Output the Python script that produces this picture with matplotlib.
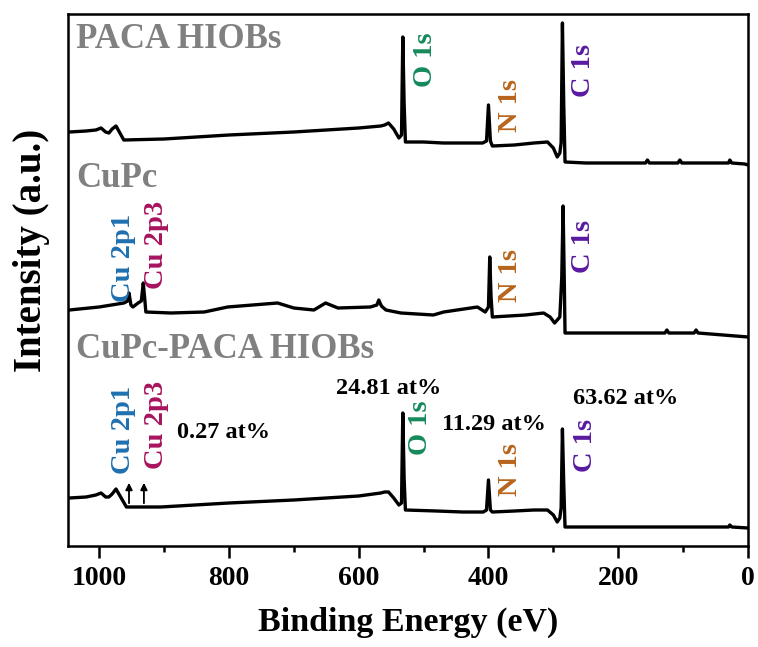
import matplotlib
matplotlib.use('Agg')
import matplotlib.pyplot as plt
from matplotlib.ticker import MultipleLocator
import numpy as np

plt.rcParams['font.family'] = ['Liberation Serif', 'DejaVu Serif']
plt.rcParams['font.weight'] = 'bold'

# spectra: binding energy (eV) and intensity (a.u.)
be_paca = [1046, 1020, 1005, 997, 990, 985, 980, 974, 968, 962, 900, 800, 700, 600, 566, 560,
           554, 546, 538, 534, 532, 530, 528, 500, 470, 440, 409, 403, 400, 397, 394, 360,
           330, 309, 300, 294, 290, 288, 286, 284, 282, 250, 200, 158, 155, 152, 108, 105,
           102, 30, 28, 25, 5, 0]
int_paca = [31, 32, 33, 35, 31, 30, 34, 37, 30, 23, 24, 28, 31, 35, 37, 38,
            40, 34, 25, 28, 126, 60, 21, 21, 20, 20, 20, 22, 58, 22, 17, 18,
            20, 21, 15, 6, 10, 20, 140, 60, 1, 0, 0, 0, 3, 0, 0, 3,
            0, 0, 3, 0, -1, -2]

be_cupc = [1046, 1000, 962, 956, 954, 951, 948, 940, 935, 932, 930, 928, 889, 838, 802, 725,
           700, 669, 651, 632, 582, 572, 569, 565, 558, 535, 485, 469, 417, 405, 400, 398,
           396, 394, 343, 315, 305, 298, 290, 287, 285, 283, 282, 200, 128, 125, 122, 83,
           80, 77, 0]
int_cupc = [27, 30, 34, 36, 44, 32, 30, 34, 36, 54, 40, 25, 24, 25, 30, 34,
            29, 27, 34, 29, 30, 32, 37, 31, 27, 24, 22, 25, 30, 25, 30, 80,
            40, 20, 22, 24, 20, 14, 20, 60, 131, 50, 4, 4, 4, 7, 4, 4,
            7, 4, 0]

be_mix = [1046, 1020, 1005, 997, 990, 985, 980, 974, 966, 958, 905, 800, 700, 600, 566, 560,
          554, 546, 538, 534, 532, 530, 528, 480, 440, 408, 403, 400, 397, 394, 360, 330,
          309, 300, 294, 290, 288, 286, 284, 282, 200, 100, 30, 28, 25, 0]
int_mix = [30, 31, 33, 35, 31, 31, 34, 39, 30, 21, 21, 25, 28, 32, 35, 36,
           36, 30, 23, 25, 115, 50, 18, 17, 16, 16, 18, 48, 18, 16, 17, 18,
           18, 13, 6, 10, 20, 99, 45, 1, 1, 1, 1, 3, 1, 0]

offsets = [383, 209, 18]
names = ['PACA HIOBs', 'CuPc', 'CuPc-PACA HIOBs']
name_pos = [(1036, 498), (1036, 359), (1036, 188)]

# peak labels: text, colour, x (eV), y
peak_labels = [
    ('O 1s', '#168a5c', 497, 486), ('N 1s', '#b8651c', 366, 440), ('C 1s', '#5a1aa0', 254, 476),
    ('Cu 2p1', '#1f70b0', 963, 288), ('Cu 2p3', '#a8145e', 912, 301),
    ('N 1s', '#b8651c', 366, 270), ('C 1s', '#5a1aa0', 254, 300),
    ('Cu 2p1', '#1f70b0', 963, 116), ('Cu 2p3', '#a8145e', 912, 121),
    ('O 1s', '#168a5c', 505, 118), ('N 1s', '#b8651c', 366, 76), ('C 1s', '#5a1aa0', 251, 101),
]
at_labels = [('0.27 at%', 809, 114), ('24.81 at%', 554, 158), ('11.29 at%', 391, 121),
             ('63.62 at%', 189, 148)]
arrow_x = [954, 931]

fig = plt.figure(figsize=(7.58, 6.47), dpi=100)
ax = fig.add_axes([68/758, 101/647, 680/758, 532/647])

for be, inten, off in zip([be_paca, be_cupc, be_mix], [int_paca, int_cupc, int_mix], offsets):
    ax.plot(be, np.array(inten) + off, color='black', lw=2.4, solid_joinstyle='round')

for name, (x, y) in zip(names, name_pos):
    ax.text(x, y, name, color='#808080', fontsize=25, fontweight='bold', ha='left', va='baseline')

for txt, c, x, y in peak_labels:
    ax.text(x, y, txt, color=c, fontsize=20.5, fontweight='bold', rotation=90, ha='center', va='center')

for txt, x, y in at_labels:
    ax.text(x, y, txt, color='black', fontsize=17.5, fontweight='bold', ha='center', va='center')

for x in arrow_x:
    ax.annotate('', xy=(x, 66), xytext=(x, 40),
                arrowprops=dict(arrowstyle='-|>', color='black', lw=1.3, mutation_scale=10))

ax.set_xlim(1048, 0)
ax.set_ylim(0, 532)
ax.xaxis.set_major_locator(MultipleLocator(200))
ax.xaxis.set_minor_locator(MultipleLocator(100))
ax.set_yticks([])
ax.tick_params(axis='x', which='major', direction='out', length=8.5, width=1.8, labelsize=20, pad=6)
ax.tick_params(axis='x', which='minor', direction='out', length=4.5, width=1.8)
for s in ax.spines.values():
    s.set_linewidth(1.8)
for lab in ax.get_xticklabels():
    lab.set_fontweight('bold')

ax.set_xlabel('Binding Energy (eV)', fontsize=24.5, fontweight='bold', labelpad=11)
ax.set_ylabel('Intensity (a.u.)', fontsize=28, fontweight='bold')
ax.yaxis.set_label_coords(-0.027, 0.555)

fig.savefig('out.png', dpi=100)
